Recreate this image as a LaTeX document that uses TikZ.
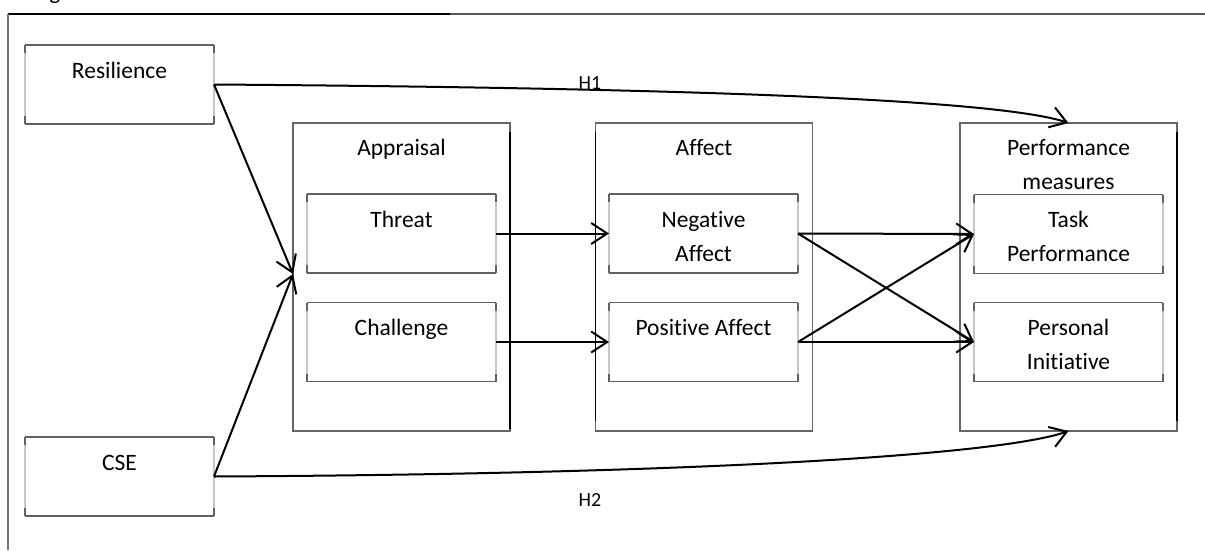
\documentclass[tikz,border=0pt]{standalone}
\usepackage{fontspec}
\setmainfont[Ligatures={NoCommon}]{Carlito}
\usetikzlibrary{arrows.meta}
\newcommand{\twoline}[2]{\begin{tabular}[t]{@{}c@{}}#1\\#2\end{tabular}}
\newcommand{\wordbox}[1]{%
  \draw[sidegray] (#1.north west) -- (#1.south west);
  \draw[sidegray] (#1.north east) -- (#1.south east);
  \draw[edgegray] (#1.north west) -- (#1.north east);
  \draw[edgegray] (#1.south west) -- (#1.south east);
  \draw[edgegray] (#1.north west) -- ++(0,8);
  \draw[edgegray] (#1.north east) -- ++(0,8);
  \draw[edgegray] (#1.south west) -- ++(0,-8);
  \draw[edgegray] (#1.south east) -- ++(0,-8);
}
\begin{document}
\begin{tikzpicture}[x=1pt,y=-1pt,
  boxshape/.style={draw=none, inner sep=0pt, outer sep=0pt, minimum width=189pt, minimum height=79pt},
  groupshape/.style={draw=black!60, line width=1.1pt, inner sep=0pt, outer sep=0pt, minimum width=217pt, minimum height=308pt},
  lbl/.style={anchor=base, inner sep=0pt, font=\fontsize{23.5}{34}\selectfont},
  hlbl/.style={anchor=base, inner sep=0pt, font=\fontsize{20}{24}\selectfont},
  conn/.style={line width=2pt, -{Straight Barb[length=16pt,width=21pt]}},
  edgegray/.style={draw=black!62, line width=1.2pt},
  sidegray/.style={draw=black!22, line width=1.2pt},
  darkedge/.style={draw=black, line width=1.6pt},
]
\useasboundingbox (0,0) rectangle (1205,550);
\fill[white] (0,0) rectangle (1205,550);

% cut-off caption at the top (only its descender shows)
\node[anchor=base west, inner sep=0pt, font=\fontsize{23.5}{28}\selectfont] (fig) at (33,-1) {Figure};

% outer frame
\coordinate (ftl) at (8,14);
\coordinate (ftm) at (450,14);
\coordinate (ftr) at (1205,14);
\coordinate (fbl) at (8,550);
\draw[black, line width=1.4pt] (ftl) -- (ftm);
\draw[black!65, line width=1.4pt] (ftm) -- (ftr);
\draw[black!55, line width=1.6pt] (ftl) -- (fbl);

% group boxes
\node[groupshape] (app) at (401.5,277) {};
\node[groupshape] (aff) at (704,277) {};
\node[groupshape] (perf) at (1068.5,277) {};
\draw[darkedge] ([yshift=-9pt]app.north east) -- ([yshift=2pt]app.south east);
\draw[darkedge] ([yshift=-9pt]aff.north west) -- ([yshift=10pt]aff.south west);
\draw[darkedge] ([yshift=-9pt]perf.north east) -- ([yshift=10pt]perf.south east);

% inner boxes
\node[boxshape] (res) at (119.5,84.5) {};
\node[boxshape] (cse) at (119.5,476.5) {};
\node[boxshape] (thr) at (401.5,233.5) {};
\node[boxshape] (cha) at (401.5,342) {};
\node[boxshape] (neg) at (703.5,233.5) {};
\node[boxshape] (pos) at (703.5,342) {};
\node[boxshape] (task) at (1068.5,234) {};
\node[boxshape] (pers) at (1068.5,342) {};
\wordbox{res}
\wordbox{cse}
\wordbox{thr}
\wordbox{cha}
\wordbox{neg}
\wordbox{pos}
\wordbox{task}
\wordbox{pers}

% labels
\node[lbl] (res-t) at ([yshift=-33pt]res.north) {Resilience};
\node[lbl] (cse-t) at ([yshift=-33pt]cse.north) {CSE};
\node[lbl] (app-t) at ([yshift=-32pt]app.north) {Appraisal};
\node[lbl] (aff-t) at ([yshift=-32pt]aff.north) {Affect};
\node[lbl] (perf-t) at ([yshift=-32pt]perf.north) {\twoline{Performance}{measures}};
\node[lbl] (thr-t) at ([yshift=-33pt]thr.north) {Threat};
\node[lbl] (cha-t) at ([yshift=-33pt]cha.north) {Challenge};
\node[lbl] (neg-t) at ([yshift=-33pt]neg.north) {\twoline{Negative}{Affect}};
\node[lbl] (pos-t) at ([yshift=-33pt]pos.north) {Positive Affect};
\node[lbl] (task-t) at ([yshift=-33pt]task.north) {\twoline{Task}{Performance}};
\node[lbl] (pers-t) at ([yshift=-33pt]pers.north) {\twoline{Personal}{Initiative}};

% connectors
\draw[conn] (res.east) -- ([yshift=3pt]app.west);
\draw[conn] (cse.east) -- ([yshift=3pt]app.west);
\draw[conn] (thr.east) -- (neg.west);
\draw[conn] (cha.east) -- (pos.west);
\draw[conn] (neg.east) -- (task.west);
\draw[conn] (neg.east) -- (pers.west);
\draw[conn] (pos.east) -- (task.west);
\draw[conn] (pos.east) -- (pers.west);
\draw[conn] (res.east) .. controls (700,88) and (1000,100) .. (perf.north);
\draw[conn] (cse.east) .. controls (700,474) and (1000,455) .. (perf.south);

\node[hlbl] (h1) at (590,89) {H1};
\node[hlbl] (h2) at (590,506) {H2};
\end{tikzpicture}
\end{document}
